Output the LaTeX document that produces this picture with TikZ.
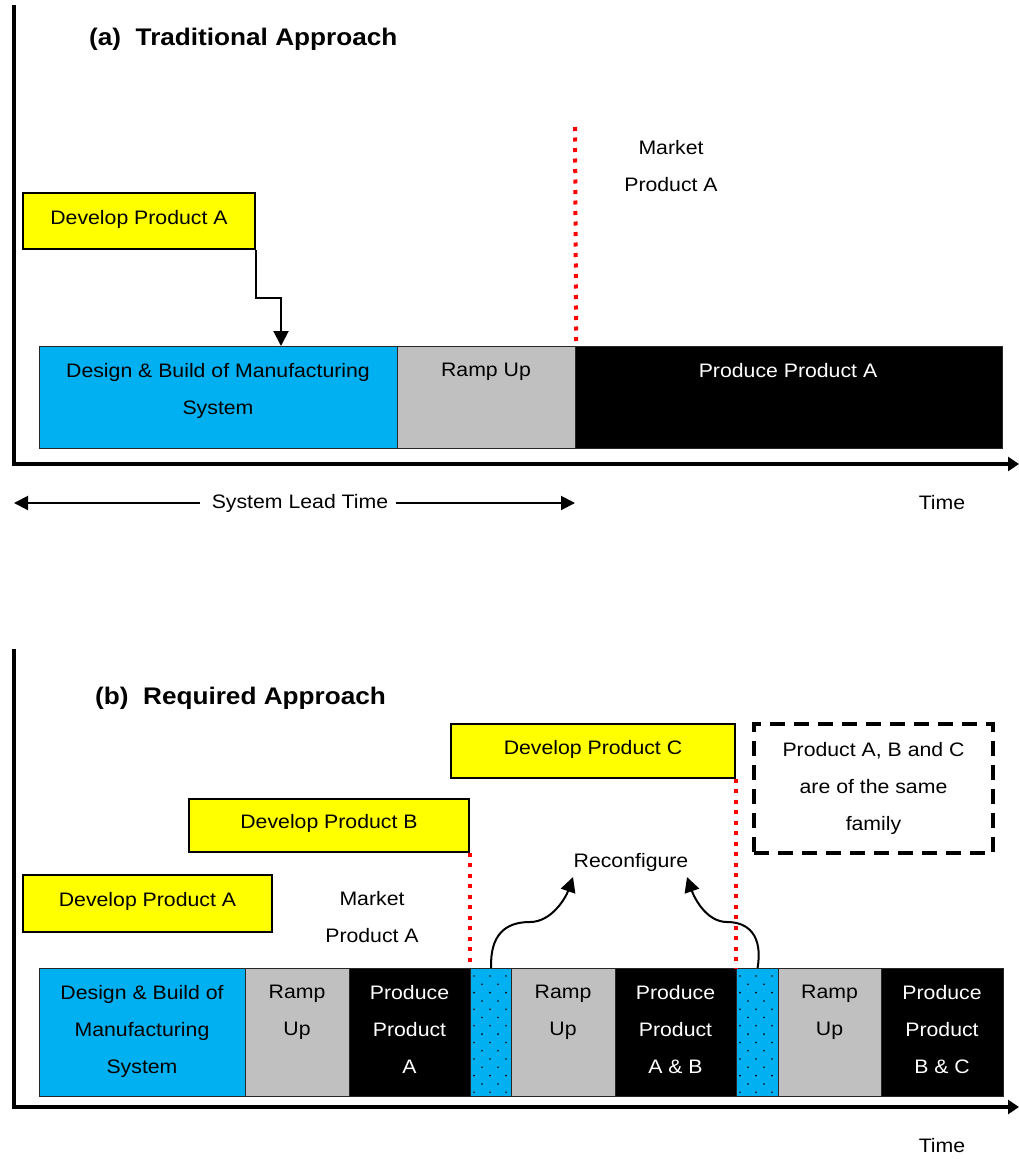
\documentclass[tikz,border=0pt]{standalone}
\usepackage{fontspec}
\setmainfont{Liberation Sans}[FakeStretch=1.09]
\usetikzlibrary{arrows.meta}
\definecolor{devyellow}{HTML}{FFFF00}
\definecolor{buildblue}{HTML}{00B0F0}
\definecolor{rampgray}{HTML}{C0C0C0}
\begin{document}
\begin{tikzpicture}[x=1pt,y=-1pt,
  txt/.style={font=\fontsize{19.5}{37}\selectfont, inner sep=0pt, align=center},
  celltxt/.style={txt, anchor=north},
  ttl/.style={font=\fontsize{24}{28}\selectfont\bfseries, inner sep=0pt, anchor=base west},
  devbox/.style={draw=black, line width=1.5pt, fill=devyellow, inner sep=0pt,
    font=\fontsize{19.5}{37}\selectfont, text height=14pt, text depth=8pt},
  cell/.style={draw=black!85, line width=1.2pt, inner sep=0pt, anchor=north west},
  axis/.style={line width=4pt, line join=miter, -{Triangle[length=11pt,width=14pt]}},
  reddot/.style={draw=red, line width=4pt, dash pattern=on 4pt off 6.5pt},
  conn/.style={line width=2pt, -{Triangle[length=15pt,width=15pt]}},
  lead/.style={line width=2pt, -{Triangle[length=14pt,width=14pt]}},
  famline/.style={draw=black, line width=4pt, dash pattern=on 15pt off 9pt},
  dotfill/.style={fill=black}
]
\useasboundingbox (0,0) rectangle (1019,1159);

% ---------------- (a) ----------------
\coordinate (aTop) at (13.5,5);
\coordinate (aOrig) at (13.5,464);
\coordinate (aEnd) at (1019,464);
\draw[axis] (aTop) -- (aOrig) -- (aEnd);

\node[ttl] (titleA) at (89,45) {(a)\ \ Traditional Approach};

\node[devbox, minimum width=232pt, minimum height=56pt] (devA1) at (139,221) {Develop Product A};

\node[cell, fill=buildblue, minimum width=358pt, minimum height=102pt] (buildA) at (39,346) {};
\node[cell, fill=rampgray, minimum width=178pt, minimum height=102pt] (rampA) at (397,346) {};
\node[cell, fill=black, minimum width=427pt, minimum height=102pt] (prodA) at (575,346) {};

\node[celltxt] (buildAtxt) at (218,363) {Design \& Build of Manufacturing\\System};
\node[celltxt] (rampAtxt) at (486,363) {Ramp Up};
\node[celltxt, text=white] (prodAtxt) at (788,363) {Produce Product A};

\node[txt, anchor=north] (mktA) at (671,140) {Market\\Product A};
\coordinate (mktLineA) at (575,127);
\draw[reddot] (mktLineA) -- (rampA.north east);

\coordinate (arrA) at (281,346);
\draw[conn] (devA1.south east) -- ++(0,48) -| (arrA);

\node[txt] (slt) at (300,503) {System Lead Time};
\coordinate (sltL) at (14,503);
\coordinate (sltR) at (575,503);
\draw[lead] ([xshift=-12pt]slt.west) -- (sltL);
\draw[lead] ([xshift=8pt]slt.east) -- (sltR);

\node[txt, anchor=base] (timeA) at (942,509) {Time};

% ---------------- (b) ----------------
\coordinate (bTop) at (13.5,649);
\coordinate (bOrig) at (13.5,1107);
\coordinate (bEnd) at (1019,1107);
\draw[axis] (bTop) -- (bOrig) -- (bEnd);

\node[ttl] (titleB) at (95,704) {(b)\ \ Required Approach};

\node[devbox, minimum width=284pt, minimum height=54pt] (devC) at (593,751) {Develop Product C};
\node[devbox, minimum width=280pt, minimum height=53pt] (devB) at (329,825.5) {Develop Product B};
\node[devbox, minimum width=249pt, minimum height=57pt] (devA2) at (147.5,903.5) {Develop Product A};

\node[famline, txt, minimum width=239pt, minimum height=129pt] (family) at (873.5,788.5)
  {Product A, B and C\\are of the same\\family};

\node[txt, anchor=north] (mktB) at (372,891) {Market\\Product A};
\node[txt, anchor=base] (reconf) at (631,867) {Reconfigure};

% bottom row
\node[cell, fill=buildblue, minimum width=206pt, minimum height=128pt] (c1) at (39,968) {};
\node[cell, fill=rampgray, minimum width=104pt, minimum height=128pt] (c2) at (245,968) {};
\node[cell, fill=black, minimum width=121pt, minimum height=128pt] (c3) at (349,968) {};
\node[cell, fill=buildblue, minimum width=41pt, minimum height=128pt] (d1) at (470,968) {};
\node[cell, fill=rampgray, minimum width=104pt, minimum height=128pt] (c4) at (511,968) {};
\node[cell, fill=black, minimum width=121pt, minimum height=128pt] (c5) at (615,968) {};
\node[cell, fill=buildblue, minimum width=42pt, minimum height=128pt] (d2) at (736,968) {};
\node[cell, fill=rampgray, minimum width=103pt, minimum height=128pt] (c6) at (778,968) {};
\node[cell, fill=black, minimum width=122pt, minimum height=128pt] (c7) at (881,968) {};

% dots in reconfiguration cells
\foreach \x in {470,736}{
  \foreach \i in {0,...,14}{
    \foreach \j in {0,...,4}{
      \pgfmathtruncatemacro{\dotpar}{mod(\i+\j,2)}
      \ifnum\dotpar=0
        \fill[dotfill] (\x+4+8*\j,968+8+8.3*\i) circle (0.9pt);
      \fi
    }
  }
}

\node[celltxt] (c1t) at (142,985) {Design \& Build of\\Manufacturing\\System};
\node[celltxt] (c2t) at (297,985) {Ramp\\Up};
\node[celltxt, text=white] (c3t) at (409.5,985) {Produce\\Product\\A};
\node[celltxt] (c4t) at (563,985) {Ramp\\Up};
\node[celltxt, text=white] (c5t) at (675.5,985) {Produce\\Product\\A \& B};
\node[celltxt] (c6t) at (829.5,985) {Ramp\\Up};
\node[celltxt, text=white] (c7t) at (942,985) {Produce\\Product\\B \& C};

\draw[reddot] (devB.south east) -- (devB.south east |- d1.north);
\draw[reddot] (devC.south east) -- (devC.south east |- d2.north);

\coordinate (rc1) at (573,877);
\coordinate (rc2) at (687,877);
\draw[conn] (d1.north) .. controls (490,935) and (505,922) .. (530,922)
  .. controls (552,922) and (566,897) .. (rc1);
\draw[conn] (d2.north) .. controls (763,935) and (748,922) .. (727,922)
  .. controls (706,922) and (694,897) .. (rc2);

\node[txt, anchor=base] (timeB) at (942,1152) {Time};
\end{tikzpicture}
\end{document}
